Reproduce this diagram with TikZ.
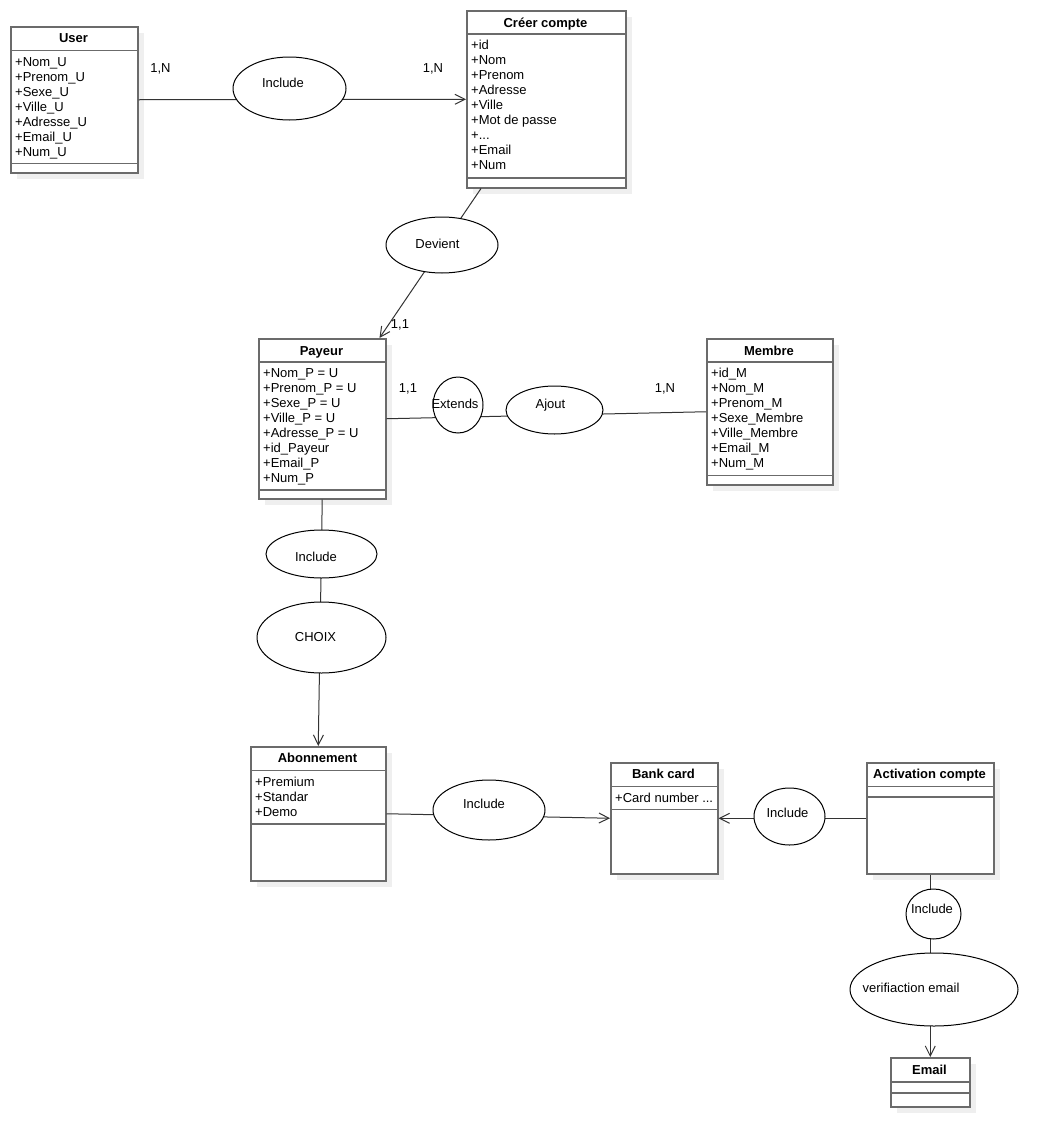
\documentclass[tikz,border=0pt]{standalone}
\usepackage{fontspec}
\setmainfont{Liberation Sans}
\usetikzlibrary{shapes.geometric,arrows.meta,shadows}
\definecolor{boxc}{HTML}{6B6B6B}
\definecolor{shadowc}{HTML}{EFEFEF}
\definecolor{linec}{HTML}{333333}
\newcommand\dfont{\fontsize{13pt}{15pt}\selectfont}
\newcommand\threedots{...}
\begin{document}
\begin{tikzpicture}[x=1pt,y=-1pt,
 umlbox/.style={draw=boxc,line width=1.5pt,fill=white,inner sep=0pt,anchor=north west,
   drop shadow={shadow xshift=6pt,shadow yshift=-6pt,fill=shadowc,opacity=1}},
 sepline/.style={draw=boxc,line width=1.5pt},
 ttl/.style={font=\dfont\bfseries,inner sep=0pt,text height=9.3pt,text depth=0pt},
 attr/.style={font=\dfont,inner sep=0pt,anchor=west,text height=9.3pt,text depth=0pt},
 lbl/.style={font=\dfont,inner sep=0pt,text height=9.3pt,text depth=0pt},
 ell/.style={ellipse,draw=black,line width=1pt,fill=white,inner sep=0pt},
 conn/.style={draw=linec,line width=1pt},
 arr/.style={conn,-{Straight Barb[length=10pt,width=10pt]}}
]
\useasboundingbox (0,0) rectangle (1058,1146);
\fill[white] (0,0) rectangle (1058,1146);

% ---------- boxes ----------
% User
\node[umlbox,minimum width=127pt,minimum height=146pt] (user) at (10,26) {};
\draw[sepline] (user.west |- 0,50.5) -- (user.east |- 0,50.5);
\draw[sepline] (user.west |- 0,163.5) -- (user.east |- 0,163.5);
\node[ttl] (user-t) at (73.5,38) {User};
\foreach \t [count=\i from 0] in {+Nom\_U,+Prenom\_U,+Sexe\_U,+Ville\_U,+Adresse\_U,+Email\_U,+Num\_U}
  \node[attr] (user-a\i) at (15,{61.5+15*\i}) {\t};

% Creer compte
\node[umlbox,minimum width=159pt,minimum height=177pt] (creer) at (466,10) {};
\draw[sepline] (creer.west |- 0,34) -- (creer.east |- 0,34);
\draw[sepline] (creer.west |- 0,178) -- (creer.east |- 0,178);
\node[ttl] (creer-t) at (545.5,22.5) {Créer compte};
\foreach \t [count=\i from 0] in {+id,+Nom,+Prenom,+Adresse,+Ville,+Mot de passe,+\threedots,+Email,+Num}
  \node[attr] (creer-a\i) at (471,{45+15*\i}) {\t};

% Payeur
\node[umlbox,minimum width=127pt,minimum height=160pt] (payeur) at (258,338) {};
\draw[sepline] (payeur.west |- 0,362) -- (payeur.east |- 0,362);
\draw[sepline] (payeur.west |- 0,490) -- (payeur.east |- 0,490);
\node[ttl] (payeur-t) at (321.5,350.5) {Payeur};
\foreach \t [count=\i from 0] in {+Nom\_P = U,+Prenom\_P = U,+Sexe\_P = U,+Ville\_P = U,+Adresse\_P = U,+id\_Payeur,+Email\_P,+Num\_P}
  \node[attr] (payeur-a\i) at (263,{373+15*\i}) {\t};

% Membre
\node[umlbox,minimum width=126pt,minimum height=146pt] (membre) at (706,338) {};
\draw[sepline] (membre.west |- 0,362) -- (membre.east |- 0,362);
\draw[sepline] (membre.west |- 0,475.5) -- (membre.east |- 0,475.5);
\node[ttl] (membre-t) at (769,350.5) {Membre};
\foreach \t [count=\i from 0] in {+id\_M,+Nom\_M,+Prenom\_M,+Sexe\_Membre,+Ville\_Membre,+Email\_M,+Num\_M}
  \node[attr] (membre-a\i) at (711,{373+15*\i}) {\t};

% Abonnement
\node[umlbox,minimum width=135pt,minimum height=134pt] (abon) at (250,746) {};
\draw[sepline] (abon.west |- 0,770.5) -- (abon.east |- 0,770.5);
\draw[sepline] (abon.west |- 0,824) -- (abon.east |- 0,824);
\node[ttl] (abon-t) at (317.5,758) {Abonnement};
\foreach \t [count=\i from 0] in {+Premium,+Standar,+Demo}
  \node[attr] (abon-a\i) at (255,{782+15*\i}) {\t};

% Bank card
\node[umlbox,minimum width=107pt,minimum height=111pt] (bank) at (610,762) {};
\draw[sepline] (bank.west |- 0,786.5) -- (bank.east |- 0,786.5);
\draw[sepline] (bank.west |- 0,809.5) -- (bank.east |- 0,809.5);
\node[ttl] (bank-t) at (663.5,774) {Bank card};
\node[attr] (bank-a0) at (615,798) {+Card number ...};

% Activation compte
\node[umlbox,minimum width=127pt,minimum height=111pt] (act) at (866,762) {};
\draw[sepline] (act.west |- 0,786.5) -- (act.east |- 0,786.5);
\draw[sepline] (act.west |- 0,797) -- (act.east |- 0,797);
\node[ttl] (act-t) at (929.5,774) {Activation compte};

% Email
\node[umlbox,minimum width=79pt,minimum height=49pt] (email) at (890,1057) {};
\draw[sepline] (email.west |- 0,1082) -- (email.east |- 0,1082);
\draw[sepline] (email.west |- 0,1093) -- (email.east |- 0,1093);
\node[ttl] (email-t) at (929.5,1070) {Email};

% ---------- connectors ----------
\draw[arr] (user.east) -- (creer.west);
\draw[arr] ([xshift=15pt]creer.south west) -- ([xshift=-7pt]payeur.north east);
\draw[conn] (payeur.east) -- (membre.west);
\draw[arr] (payeur.south) -- (abon.north);
\draw[arr] (abon.east) -- (bank.west);
\draw[arr] (act.west) -- (bank.east);
\draw[arr] (act.south) -- (email.north);

% ---------- ellipses ----------
\node[ell,minimum width=113pt,minimum height=63pt] (inc1) at (289.5,88.5) {};
\node[lbl] (inc1-t) at (283,83) {Include};
\node[ell,minimum width=112pt,minimum height=56pt] (dev) at (442,245) {};
\node[lbl] (dev-t) at (437.5,244) {Devient};
\node[ell,minimum width=50pt,minimum height=56pt] (ext) at (458,405) {};
\node[lbl] (ext-t) at (455,404) {Extends};
\node[ell,minimum width=97pt,minimum height=48pt] (ajout) at (554.5,410) {};
\node[lbl] (ajout-t) at (550.5,404) {Ajout};
\node[ell,minimum width=111pt,minimum height=48pt] (inc2) at (321.5,554) {};
\node[lbl] (inc2-t) at (316,557) {Include};
\node[ell,minimum width=129pt,minimum height=71pt] (choix) at (321.5,637.5) {};
\node[lbl] (choix-t) at (315.5,637) {CHOIX};
\node[ell,minimum width=112pt,minimum height=60pt] (inc3) at (489,810) {};
\node[lbl] (inc3-t) at (484,804) {Include};
\node[ell,minimum width=71pt,minimum height=57pt] (inc4) at (789.5,816.5) {};
\node[lbl] (inc4-t) at (787.5,813) {Include};
\node[ell,minimum width=55pt,minimum height=50pt] (inc5) at (933.5,914) {};
\node[lbl] (inc5-t) at (932,909) {Include};
\node[ell,minimum width=168pt,minimum height=73pt] (verif) at (934,989.5) {};
\node[lbl] (verif-t) at (911,988) {verifiaction email};

% ---------- cardinalities ----------
\node[lbl] (c1) at (160.5,68) {1,N};
\node[lbl] (c2) at (433,68) {1,N};
\node[lbl] (c3) at (400,324) {1,1};
\node[lbl] (c4) at (408,388) {1,1};
\node[lbl] (c5) at (665,388) {1,N};
\end{tikzpicture}
\end{document}
